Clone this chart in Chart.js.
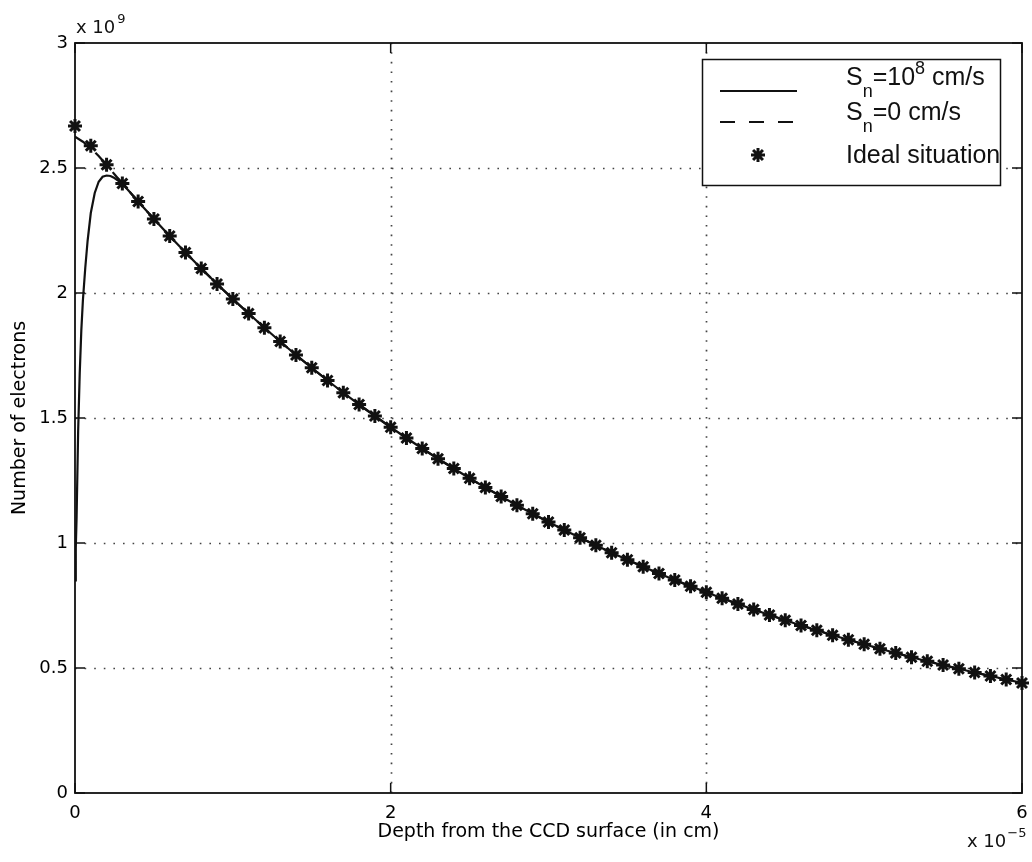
<!DOCTYPE html>
<html><head><meta charset="utf-8">
<script src="https://cdn.jsdelivr.net/npm/chart.js@4.4.1/dist/chart.umd.min.js"></script>
<style>html,body{margin:0;padding:0;background:#fff;}#wrap{width:1032px;height:862px;}</style>
</head><body><div id="wrap"><canvas id="c" width="1032" height="862"></canvas></div>
<script>
// Depth in units of 1e-5 cm, electrons in units of 1e9
const depthIdeal = [0,0.1,0.2,0.3,0.4,0.5,0.6,0.7,0.8,0.9,1.0,1.1,1.2,1.3,1.4,1.5,1.6,1.7,1.8,1.9,2.0,2.1,2.2,2.3,2.4,2.5,2.6,2.7,2.8,2.9,3.0,3.1,3.2,3.3,3.4,3.5,3.6,3.7,3.8,3.9,4.0,4.1,4.2,4.3,4.4,4.5,4.6,4.7,4.8,4.9,5.0,5.1,5.2,5.3,5.4,5.5,5.6,5.7,5.8,5.9,6.0];
const electronsIdeal = [2.668,2.589,2.513,2.438,2.366,2.296,2.228,2.162,2.098,2.036,1.976,1.918,1.861,1.806,1.752,1.701,1.650,1.601,1.554,1.508,1.463,1.420,1.378,1.337,1.298,1.259,1.222,1.186,1.151,1.117,1.084,1.052,1.021,0.991,0.961,0.933,0.905,0.878,0.852,0.827,0.803,0.779,0.756,0.734,0.712,0.691,0.670,0.651,0.631,0.613,0.595,0.577,0.560,0.543,0.527,0.512,0.497,0.482,0.468,0.454,0.440];
const depthHeadSn1e8 = [0,0.005,0.01,0.02,0.03,0.04,0.05,0.065,0.08,0.1,0.125,0.15,0.175,0.2,0.225,0.25,0.3];
const electronsHeadSn1e8 = [0.85,0.98,1.10,1.45,1.68,1.85,1.97,2.10,2.21,2.32,2.40,2.445,2.465,2.47,2.468,2.46,2.438];
const depthHeadSn0 = [0,0.05,0.1,0.15,0.2,0.25,0.3];
const electronsHeadSn0 = [2.625,2.605,2.580,2.548,2.512,2.475,2.438];
const xTicks = [0,2,4,6];
const xTickLabels = ['0','2','4','6'];
const yTicks = [0,0.5,1,1.5,2,2.5,3];
const yTickLabels = ['0','0.5','1','1.5','2','2.5','3'];
const legendLabels = ['Sn=10^8 cm/s','Sn=0 cm/s','Ideal situation'];

const tail = () => depthIdeal.map((x,k)=>({x, y: electronsIdeal[k]})).filter(p => p.x > 0.3 + 1e-9);
const solidData = depthHeadSn1e8.map((x,i)=>({x, y: electronsHeadSn1e8[i]})).concat(tail());
const dashedData = depthHeadSn0.map((x,i)=>({x, y: electronsHeadSn0[i]})).concat(tail());
const idealData = depthIdeal.map((x,i)=>({x, y: electronsIdeal[i]}));

const FONT = 'DejaVu Sans';
const LFONT = '"Liberation Sans", Arial, sans-serif';
const INK = '#111';

const framePlugin = {
  id: 'matlabFrame',
  beforeDatasetsDraw(chart) {
    const {ctx, chartArea: a, scales: {x, y}} = chart;
    ctx.save();
    ctx.strokeStyle = '#444';
    ctx.lineWidth = 1.7;
    ctx.setLineDash([1.6, 8]);
    xTicks.slice(1, -1).forEach(v => {
      const px = Math.round(x.getPixelForValue(v)) + 0.5;
      ctx.beginPath(); ctx.moveTo(px, a.bottom); ctx.lineTo(px, a.top); ctx.stroke();
    });
    yTicks.slice(1, -1).forEach(v => {
      const py = Math.round(y.getPixelForValue(v)) + 0.5;
      ctx.beginPath(); ctx.moveTo(a.left, py); ctx.lineTo(a.right, py); ctx.stroke();
    });
    ctx.restore();
  },
  afterDatasetsDraw(chart) {
    const {ctx, chartArea: a, scales: {x, y}} = chart;
    ctx.save();
    ctx.strokeStyle = INK;
    ctx.lineWidth = 1.8;
    ctx.setLineDash([]);
    ctx.strokeRect(a.left, a.top, a.right - a.left, a.bottom - a.top);
    const tl = 10;
    ctx.lineWidth = 1.5;
    xTicks.forEach(v => {
      const px = x.getPixelForValue(v);
      ctx.beginPath(); ctx.moveTo(px, a.bottom); ctx.lineTo(px, a.bottom - tl); ctx.stroke();
      ctx.beginPath(); ctx.moveTo(px, a.top); ctx.lineTo(px, a.top + tl); ctx.stroke();
    });
    yTicks.forEach(v => {
      const py = y.getPixelForValue(v);
      ctx.beginPath(); ctx.moveTo(a.left, py); ctx.lineTo(a.left + tl, py); ctx.stroke();
      ctx.beginPath(); ctx.moveTo(a.right, py); ctx.lineTo(a.right - tl, py); ctx.stroke();
    });

    // exponent labels
    ctx.fillStyle = INK;
    ctx.textBaseline = 'alphabetic';
    ctx.textAlign = 'left';
    ctx.font = '18px ' + FONT;
    let tx = a.left + 1;
    ctx.fillText('x 10', tx, a.top - 10);
    tx += ctx.measureText('x 10').width + 2;
    ctx.font = '13px ' + FONT;
    ctx.fillText('9', tx, a.top - 20);

    ctx.font = '18px ' + FONT;
    tx = a.right - 55;
    ctx.fillText('x 10', tx, a.bottom + 54);
    tx += ctx.measureText('x 10').width + 1;
    ctx.font = '13px ' + FONT;
    ctx.fillText('\u22125', tx, a.bottom + 44);

    // legend
    const L = {x: 702, y: 59, w: 298, h: 126};
    ctx.fillStyle = '#fff';
    ctx.fillRect(L.x, L.y, L.w, L.h);
    ctx.strokeStyle = INK; ctx.lineWidth = 1.5;
    ctx.strokeRect(L.x + 0.5, L.y + 0.5, L.w, L.h);
    ctx.lineWidth = 2;
    ctx.beginPath(); ctx.moveTo(L.x + 18, L.y + 32); ctx.lineTo(L.x + 95, L.y + 32); ctx.stroke();
    ctx.setLineDash([15, 14]);
    ctx.beginPath(); ctx.moveTo(L.x + 18, L.y + 63); ctx.lineTo(L.x + 96, L.y + 63); ctx.stroke();
    ctx.setLineDash([]);
    ctx.lineWidth = 3;
    Chart.helpers.drawPoint(ctx, {pointStyle: 'star', radius: 7, rotation: 0, borderWidth: 3}, L.x + 56, L.y + 96);

    const big = '25px ' + LFONT, small = '18px ' + LFONT;
    ctx.fillStyle = INK;
    const drawRich = (parts, x0, base) => {
      let cx = x0;
      parts.forEach(([t, kind]) => {
        ctx.font = kind === 'n' ? big : small;
        const dy = kind === 'sub' ? 12 : (kind === 'sup' ? -11 : 0);
        ctx.fillText(t, cx, base + dy);
        cx += ctx.measureText(t).width;
      });
    };
    drawRich([['S','n'],['n','sub'],['=10','n'],['8','sup'],[' cm/s','n']], L.x + 144, L.y + 26);
    drawRich([['S','n'],['n','sub'],['=0 cm/s','n']], L.x + 144, L.y + 61);
    drawRich([['Ideal situation','n']], L.x + 144, L.y + 104);
    ctx.restore();
  }
};

new Chart(document.getElementById('c'), {
  type: 'line',
  data: {
    datasets: [
      {label: legendLabels[0], data: solidData, borderColor: INK, borderWidth: 2.2, pointRadius: 0, tension: 0, fill: false},
      {label: legendLabels[1], data: dashedData, borderColor: INK, borderWidth: 2.2, borderDash: [14, 12], pointRadius: 0, tension: 0, fill: false},
      {label: legendLabels[2], data: idealData, showLine: false, pointStyle: 'star', pointRadius: 7, pointBorderWidth: 3, borderColor: INK, backgroundColor: INK, clip: false}
    ]
  },
  options: {
    responsive: false,
    animation: false,
    devicePixelRatio: 1,
    layout: {padding: {top: 43, right: 10, left: 0, bottom: 0}},
    plugins: {legend: {display: false}, tooltip: {enabled: false}},
    elements: {line: {borderCapStyle: 'butt'}},
    scales: {
      x: {
        type: 'linear', min: 0, max: 6,
        afterBuildTicks: s => { s.ticks = xTicks.map(v => ({value: v})); },
        afterFit: s => { s.height = 69; s.paddingLeft = 0; s.paddingRight = 0; },
        grid: {display: false, drawTicks: false},
        border: {display: false},
        ticks: {color: '#000', font: {family: FONT, size: 18}, padding: 10, maxRotation: 0,
          callback: v => xTickLabels[xTicks.indexOf(v)]},
        title: {display: true, text: 'Depth from the CCD surface (in cm)', color: '#000',
          font: {family: FONT, size: 19}, padding: {top: 0, bottom: 19}}
      },
      y: {
        type: 'linear', min: 0, max: 3,
        afterBuildTicks: s => { s.ticks = yTicks.map(v => ({value: v})); },
        afterFit: s => { s.width = 75; s.paddingTop = 0; s.paddingBottom = 0; },
        grid: {display: false, drawTicks: false},
        border: {display: false},
        ticks: {color: '#000', font: {family: FONT, size: 18}, padding: 7,
          callback: v => yTickLabels[yTicks.indexOf(v)]},
        title: {display: true, text: 'Number of electrons', color: '#000',
          font: {family: FONT, size: 19}, padding: {top: 9, bottom: 0}}
      }
    }
  },
  plugins: [framePlugin]
});
</script></body></html>
